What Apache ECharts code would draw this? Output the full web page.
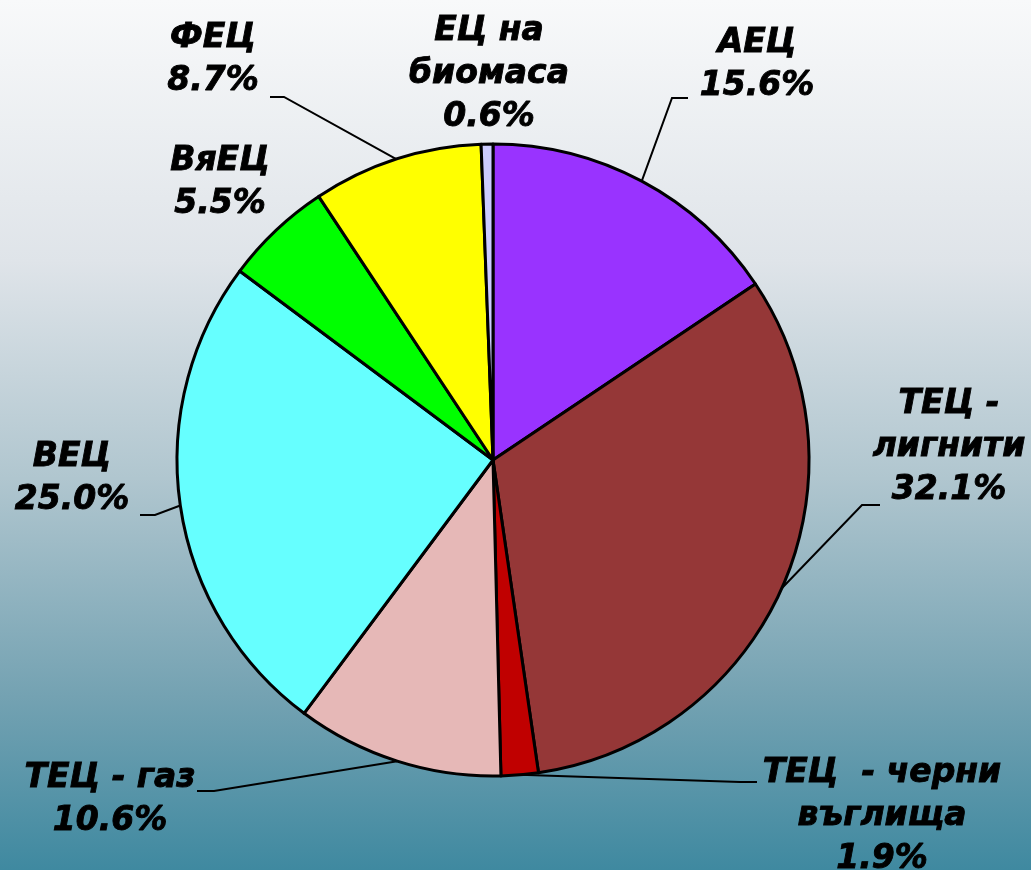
<!DOCTYPE html>
<html>
<head>
<meta charset="utf-8">
<script src="https://cdn.jsdelivr.net/npm/echarts@6/dist/echarts.min.js"></script>
<style>
  html, body { margin: 0; padding: 0; }
  #main { width: 1031px; height: 870px; }
</style>
</head>
<body>
<div id="main"></div>
<script>
// data
var names = ['АЕЦ', 'ТЕЦ -\nлигнити', 'ТЕЦ  - черни\nвъглища', 'ТЕЦ - газ', 'ВЕЦ', 'ВяЕЦ', 'ФЕЦ', 'ЕЦ на\nбиомаса'];
var shares = [15.6, 32.1, 1.9, 10.6, 25.0, 5.5, 8.7, 0.6];
var colors = ['#9933ff', '#953737', '#c00000', '#e6b8b7', '#66ffff', '#00ff00', '#ffff00', '#ccccff'];

// label placement (center of text block) and the elbow of the leader line
var labelPos = [
  { x: 757, y: 65, elbow: [[672, 98], [688, 98]] },
  { x: 949, y: 447, elbow: [[862, 505], [880, 505]] },
  { x: 882, y: 816, elbow: [[740, 782], [757, 782]] },
  { x: 110, y: 800, elbow: [[214, 791], [197, 791]] },
  { x: 72, y: 479, elbow: [[155, 515], [140, 515]] },
  { x: 220, y: 183, elbow: null },
  { x: 213, y: 60, elbow: [[284, 97], [270, 97]] },
  { x: 489, y: 74, elbow: null }
];

var chart = echarts.init(document.getElementById('main'));

var pieData = names.map(function (n, i) {
  return {
    name: n,
    value: shares[i],
    itemStyle: { color: colors[i] },
    labelLine: { show: labelPos[i].elbow !== null }
  };
});

var option = {
  backgroundColor: {
    type: 'linear', x: 0, y: 0, x2: 0, y2: 1,
    colorStops: [
      { offset: 0, color: '#f8f9fa' },
      { offset: 0.3, color: '#dfe4e9' },
      { offset: 0.55, color: '#b0c6cf' },
      { offset: 0.8, color: '#74a2b2' },
      { offset: 1, color: '#3f89a0' }
    ]
  },
  animation: false,
  series: [{
    type: 'pie',
    center: [493, 460],
    radius: [0, 316],
    startAngle: 90,
    clockwise: true,
    avoidLabelOverlap: false,
    itemStyle: { borderColor: '#000', borderWidth: 3 },
    label: {
      show: true,
      formatter: function (p) {
        return p.name + '\n' + p.value.toFixed(1) + '%';
      },
      fontFamily: 'DejaVu Sans',
      fontWeight: 'bold',
      fontStyle: 'italic',
      fontSize: 33,
      lineHeight: 43,
      color: '#000',
      textBorderColor: '#000',
      textBorderWidth: 0.9,
      align: 'center'
    },
    labelLine: {
      show: true,
      lineStyle: { color: '#000', width: 2 }
    },
    labelLayout: function (params) {
      var p = labelPos[params.dataIndex];
      var out = { x: p.x, y: p.y, align: 'center', verticalAlign: 'middle' };
      if (p.elbow && params.labelLinePoints) {
        out.labelLinePoints = [params.labelLinePoints[0], p.elbow[0], p.elbow[1]];
      }
      return out;
    },
    data: pieData
  }]
};

chart.setOption(option);
</script>
</body>
</html>
